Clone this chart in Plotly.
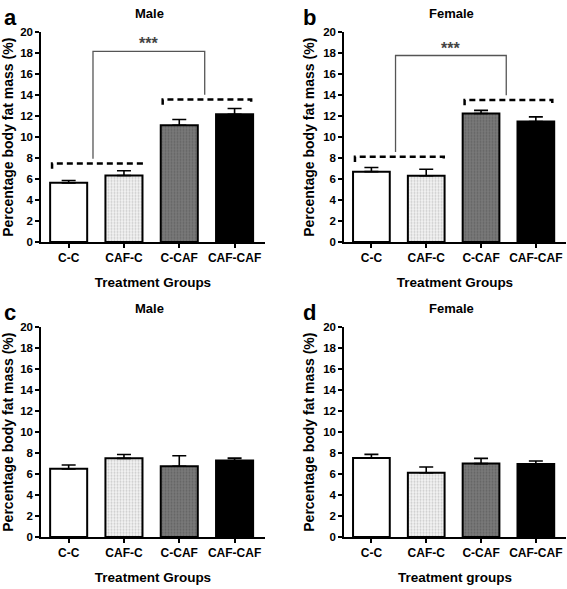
import plotly.graph_objects as go

categories = ["C-C", "CAF-C", "C-CAF", "CAF-CAF"]

# panel values (mean) and upward SEM
a_vals = [5.65, 6.35, 11.15, 12.2]
a_err = [0.22, 0.45, 0.55, 0.55]
b_vals = [6.72, 6.33, 12.27, 11.5]
b_err = [0.4, 0.62, 0.3, 0.45]
c_vals = [6.5, 7.5, 6.75, 7.3]
c_err = [0.37, 0.37, 1.0, 0.22]
d_vals = [7.53, 6.13, 7.0, 6.95]
d_err = [0.35, 0.55, 0.5, 0.3]

panel_letters = ["a", "b", "c", "d"]
panel_titles = ["Male", "Female", "Male", "Female"]
x_titles = ["Treatment Groups", "Treatment Groups", "Treatment Groups", "Treatment groups"]
y_title = "Percentage body fat mass (%)"
y_ticks = list(range(0, 21, 2))

# significance brackets (panels a and b): dashed group levels, solid connector top
a_dash_levels = [7.5, 13.6]
a_sig_top = 18.2
b_dash_levels = [8.15, 13.55]
b_sig_top = 17.8
sig_label = "***"

fill_colors = ["white", "#f2f2f2", "#7a7a7a", "black"]
pattern_fg = [None, "#a0a0a0", "#4a4a4a", None]

FONT = "Arial, Liberation Sans, sans-serif"
W, H = 567, 589

fig = go.Figure()

# pixel geometry of plot areas
col_x = [(41, 265), (344, 566)]
row_y = [(27, 241), (328, 542)]

panels = [(a_vals, a_err), (b_vals, b_err), (c_vals, c_err), (d_vals, d_err)]

for i, (vals, errs) in enumerate(panels):
    r, c = divmod(i, 2)
    xn = "x" if i == 0 else f"x{i+1}"
    yn = "y" if i == 0 else f"y{i+1}"
    for j, cat in enumerate(categories):
        pat = dict(shape="")
        if pattern_fg[j]:
            pat = dict(shape=".", fgcolor=pattern_fg[j], bgcolor=fill_colors[j],
                       size=3, solidity=0.35, fillmode="overlay")
        fig.add_trace(go.Bar(
            x=[j], y=[vals[j]], width=0.67,
            marker=dict(color=fill_colors[j], line=dict(color="black", width=2), pattern=pat),
            error_y=dict(type="data", array=[errs[j]], arrayminus=[0], symmetric=False,
                         color="black", thickness=1.6, width=7),
            xaxis=xn, yaxis=yn, showlegend=False))
    x0, x1 = col_x[c]
    y0, y1 = row_y[r]
    dom_x = [x0 / W, x1 / W]
    dom_y = [1 - y1 / H, 1 - y0 / H]
    ax_common = dict(showline=True, linecolor="black", linewidth=1.5, ticks="outside",
                     tickcolor="black", tickwidth=1.5, showgrid=False, zeroline=False)
    fig.update_layout({
        ("xaxis" if i == 0 else f"xaxis{i+1}"): dict(
            domain=dom_x, anchor=yn, range=[-0.5, 3.55],
            tickmode="array", tickvals=list(range(4)), ticktext=categories, ticklen=4,
            tickfont=dict(family=FONT, size=12, color="black", weight="bold"),
            title=dict(text=x_titles[i], font=dict(family=FONT, size=13.5, color="black", weight="bold"),
                       standoff=13),
            **ax_common),
        ("yaxis" if i == 0 else f"yaxis{i+1}"): dict(
            domain=dom_y, anchor=xn, range=[0, 20],
            tickmode="array", tickvals=y_ticks, ticklen=4,
            tickfont=dict(family=FONT, size=11.5, color="black", weight="bold"),
            title=dict(text=y_title, font=dict(family=FONT, size=14, color="black", weight="bold"),
                       standoff=5),
            **ax_common),
    })
    # panel letter and title
    fig.add_annotation(x=(x0 - 39) / W if c == 0 else (x0 - 43) / W, y=1 - (y0 - 15) / H,
                       xref="paper", yref="paper", text=panel_letters[i], showarrow=False,
                       xanchor="left", yanchor="middle",
                       font=dict(family=FONT, size=22, color="black", weight="bold"))
    fig.add_annotation(x=(x0 + x1) / 2 / W - 4 / W, y=1 - (y0 - 19) / H,
                       xref="paper", yref="paper", text=panel_titles[i], showarrow=False,
                       xanchor="center", yanchor="middle",
                       font=dict(family=FONT, size=13, color="black", weight="bold"))

# significance brackets
for i, (levels, top) in enumerate([(a_dash_levels, a_sig_top), (b_dash_levels, b_sig_top)]):
    xn = "x" if i == 0 else f"x{i+1}"
    yn = "y" if i == 0 else f"y{i+1}"
    groups = [(-0.3, 1.32), (1.7, 3.3)]
    for (gx0, gx1), lev in zip(groups, levels):
        fig.add_trace(go.Scatter(
            x=[gx0, gx0, gx1, gx1], y=[lev - 0.5, lev, lev, lev - 0.5], mode="lines",
            line=dict(color="black", width=2.5, dash="6px,4px"),
            xaxis=xn, yaxis=yn, showlegend=False, hoverinfo="skip"))
    lx, rx = 0.44, 2.46
    fig.add_trace(go.Scatter(
        x=[lx, lx, rx, rx], y=[levels[0] + 0.45, top, top, levels[1] + 0.45], mode="lines",
        line=dict(color="#555555", width=1.3),
        xaxis=xn, yaxis=yn, showlegend=False, hoverinfo="skip"))
    fig.add_annotation(x=(lx + rx) / 2, y=top, xref=xn, yref=yn, text=sig_label,
                       showarrow=False, yanchor="bottom", yshift=-3,
                       font=dict(family=FONT, size=16, color="#444444", weight="bold"))

fig.update_layout(width=W, height=H, margin=dict(l=0, r=0, t=0, b=0),
                  plot_bgcolor="white", paper_bgcolor="white", bargap=0.33)

fig.write_html("out.html", config={"displayModeBar": False},
               post_script="document.body.style.margin='0';document.body.style.overflow='hidden';")
